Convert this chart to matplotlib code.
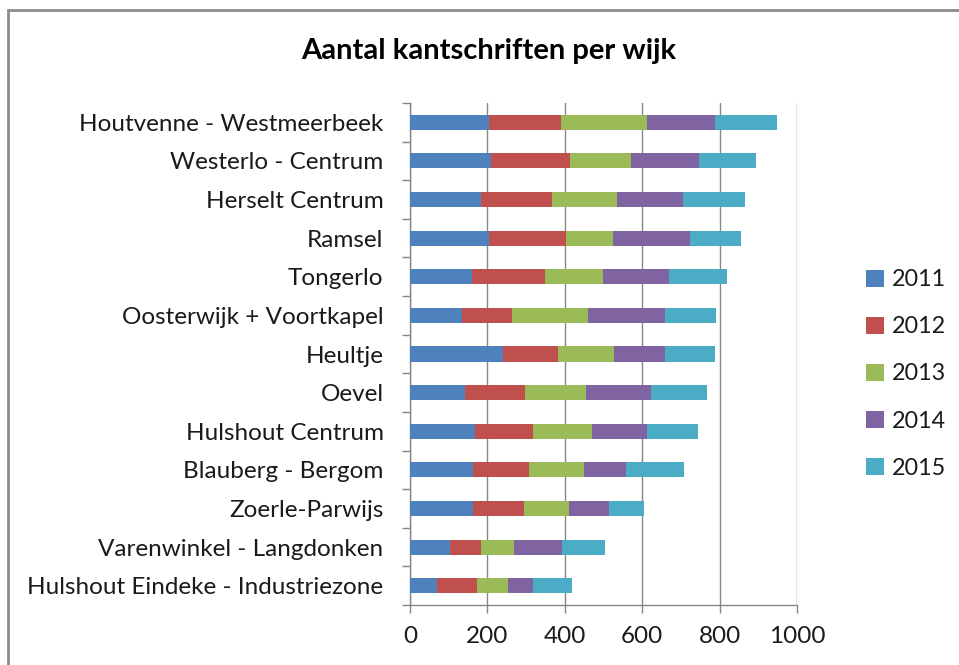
import matplotlib.pyplot as plt
import numpy as np
from matplotlib.patches import Rectangle

plt.rcParams['font.family'] = ['Lato', 'DejaVu Sans']

# wijken, van boven naar onder
wijken = ['Houtvenne - Westmeerbeek', 'Westerlo - Centrum', 'Herselt Centrum',
          'Ramsel', 'Tongerlo', 'Oosterwijk + Voortkapel', 'Heultje', 'Oevel',
          'Hulshout Centrum', 'Blauberg - Bergom', 'Zoerle-Parwijs',
          'Varenwinkel - Langdonken', 'Hulshout Eindeke - Industriezone']
jaren = ['2011', '2012', '2013', '2014', '2015']
v2011 = [204, 210, 184, 204, 160, 134, 241, 141, 168, 164, 164, 103, 71]
v2012 = [186, 204, 183, 199, 190, 130, 142, 156, 149, 143, 130, 81, 103]
v2013 = [222, 157, 168, 122, 149, 195, 143, 159, 153, 142, 116, 86, 80]
v2014 = [176, 176, 170, 199, 169, 200, 133, 166, 142, 110, 105, 123, 63]
v2015 = [161, 146, 161, 132, 152, 131, 128, 145, 132, 148, 90, 112, 102]
kleuren = ['#4F81BD', '#C0504D', '#9BBB59', '#8064A2', '#4BACC6']

W, H = 959, 665
fig = plt.figure(figsize=(W / 100, H / 100), dpi=100)
ax = fig.add_axes([410 / W, 1 - 605 / H, 387 / W, 502 / H])

y = np.arange(len(wijken))
left = np.zeros(len(wijken))
for vals, kl, jaar in zip([v2011, v2012, v2013, v2014, v2015], kleuren, jaren):
    ax.barh(y, vals, left=left, height=0.39, color=kl, label=jaar, zorder=3)
    left += np.array(vals)

ax.set_xlim(0, 1000)
ax.set_ylim(len(wijken) - 0.5, -0.5)
ax.set_xticks(range(0, 1001, 200))
ax.set_yticks(y)
ax.set_yticklabels(wijken)
ax.set_yticks(np.arange(-0.5, len(wijken)), minor=True)
ax.tick_params(axis='y', which='major', length=0, pad=19, labelsize=17.5, labelcolor='#1a1a1a')
ax.tick_params(axis='y', which='minor', length=6, color='#868686', width=1)
ax.tick_params(axis='x', length=6, color='#868686', width=1, pad=9, labelsize=17.5, labelcolor='#1a1a1a')
ax.grid(axis='x', color='#868686', linewidth=1, zorder=0)
for s in ['top', 'right']:
    ax.spines[s].set_visible(False)
for s in ['left', 'bottom']:
    ax.spines[s].set_color('#868686')
    ax.spines[s].set_linewidth(1)

fig.text(489 / W, 1 - 51 / H, 'Aantal kantschriften per wijk', ha='center', va='center',
         fontsize=21, fontweight='bold', color='black')

fig.legend(loc='center left', bbox_to_anchor=(857 / W, 1 - 374 / H), frameon=False,
           fontsize=16.8, handlelength=0.75, handleheight=0.75, handletextpad=0.35,
           labelspacing=1.12, borderaxespad=0, labelcolor='#1a1a1a')

# kaderlijn van de grafiek
fig.add_artist(Rectangle((8 / W, -0.1), 1.2, 1.1 - 10 / H, transform=fig.transFigure,
                         fill=False, edgecolor='#8c8c8c', linewidth=2))

fig.savefig('out.png', dpi=100)
